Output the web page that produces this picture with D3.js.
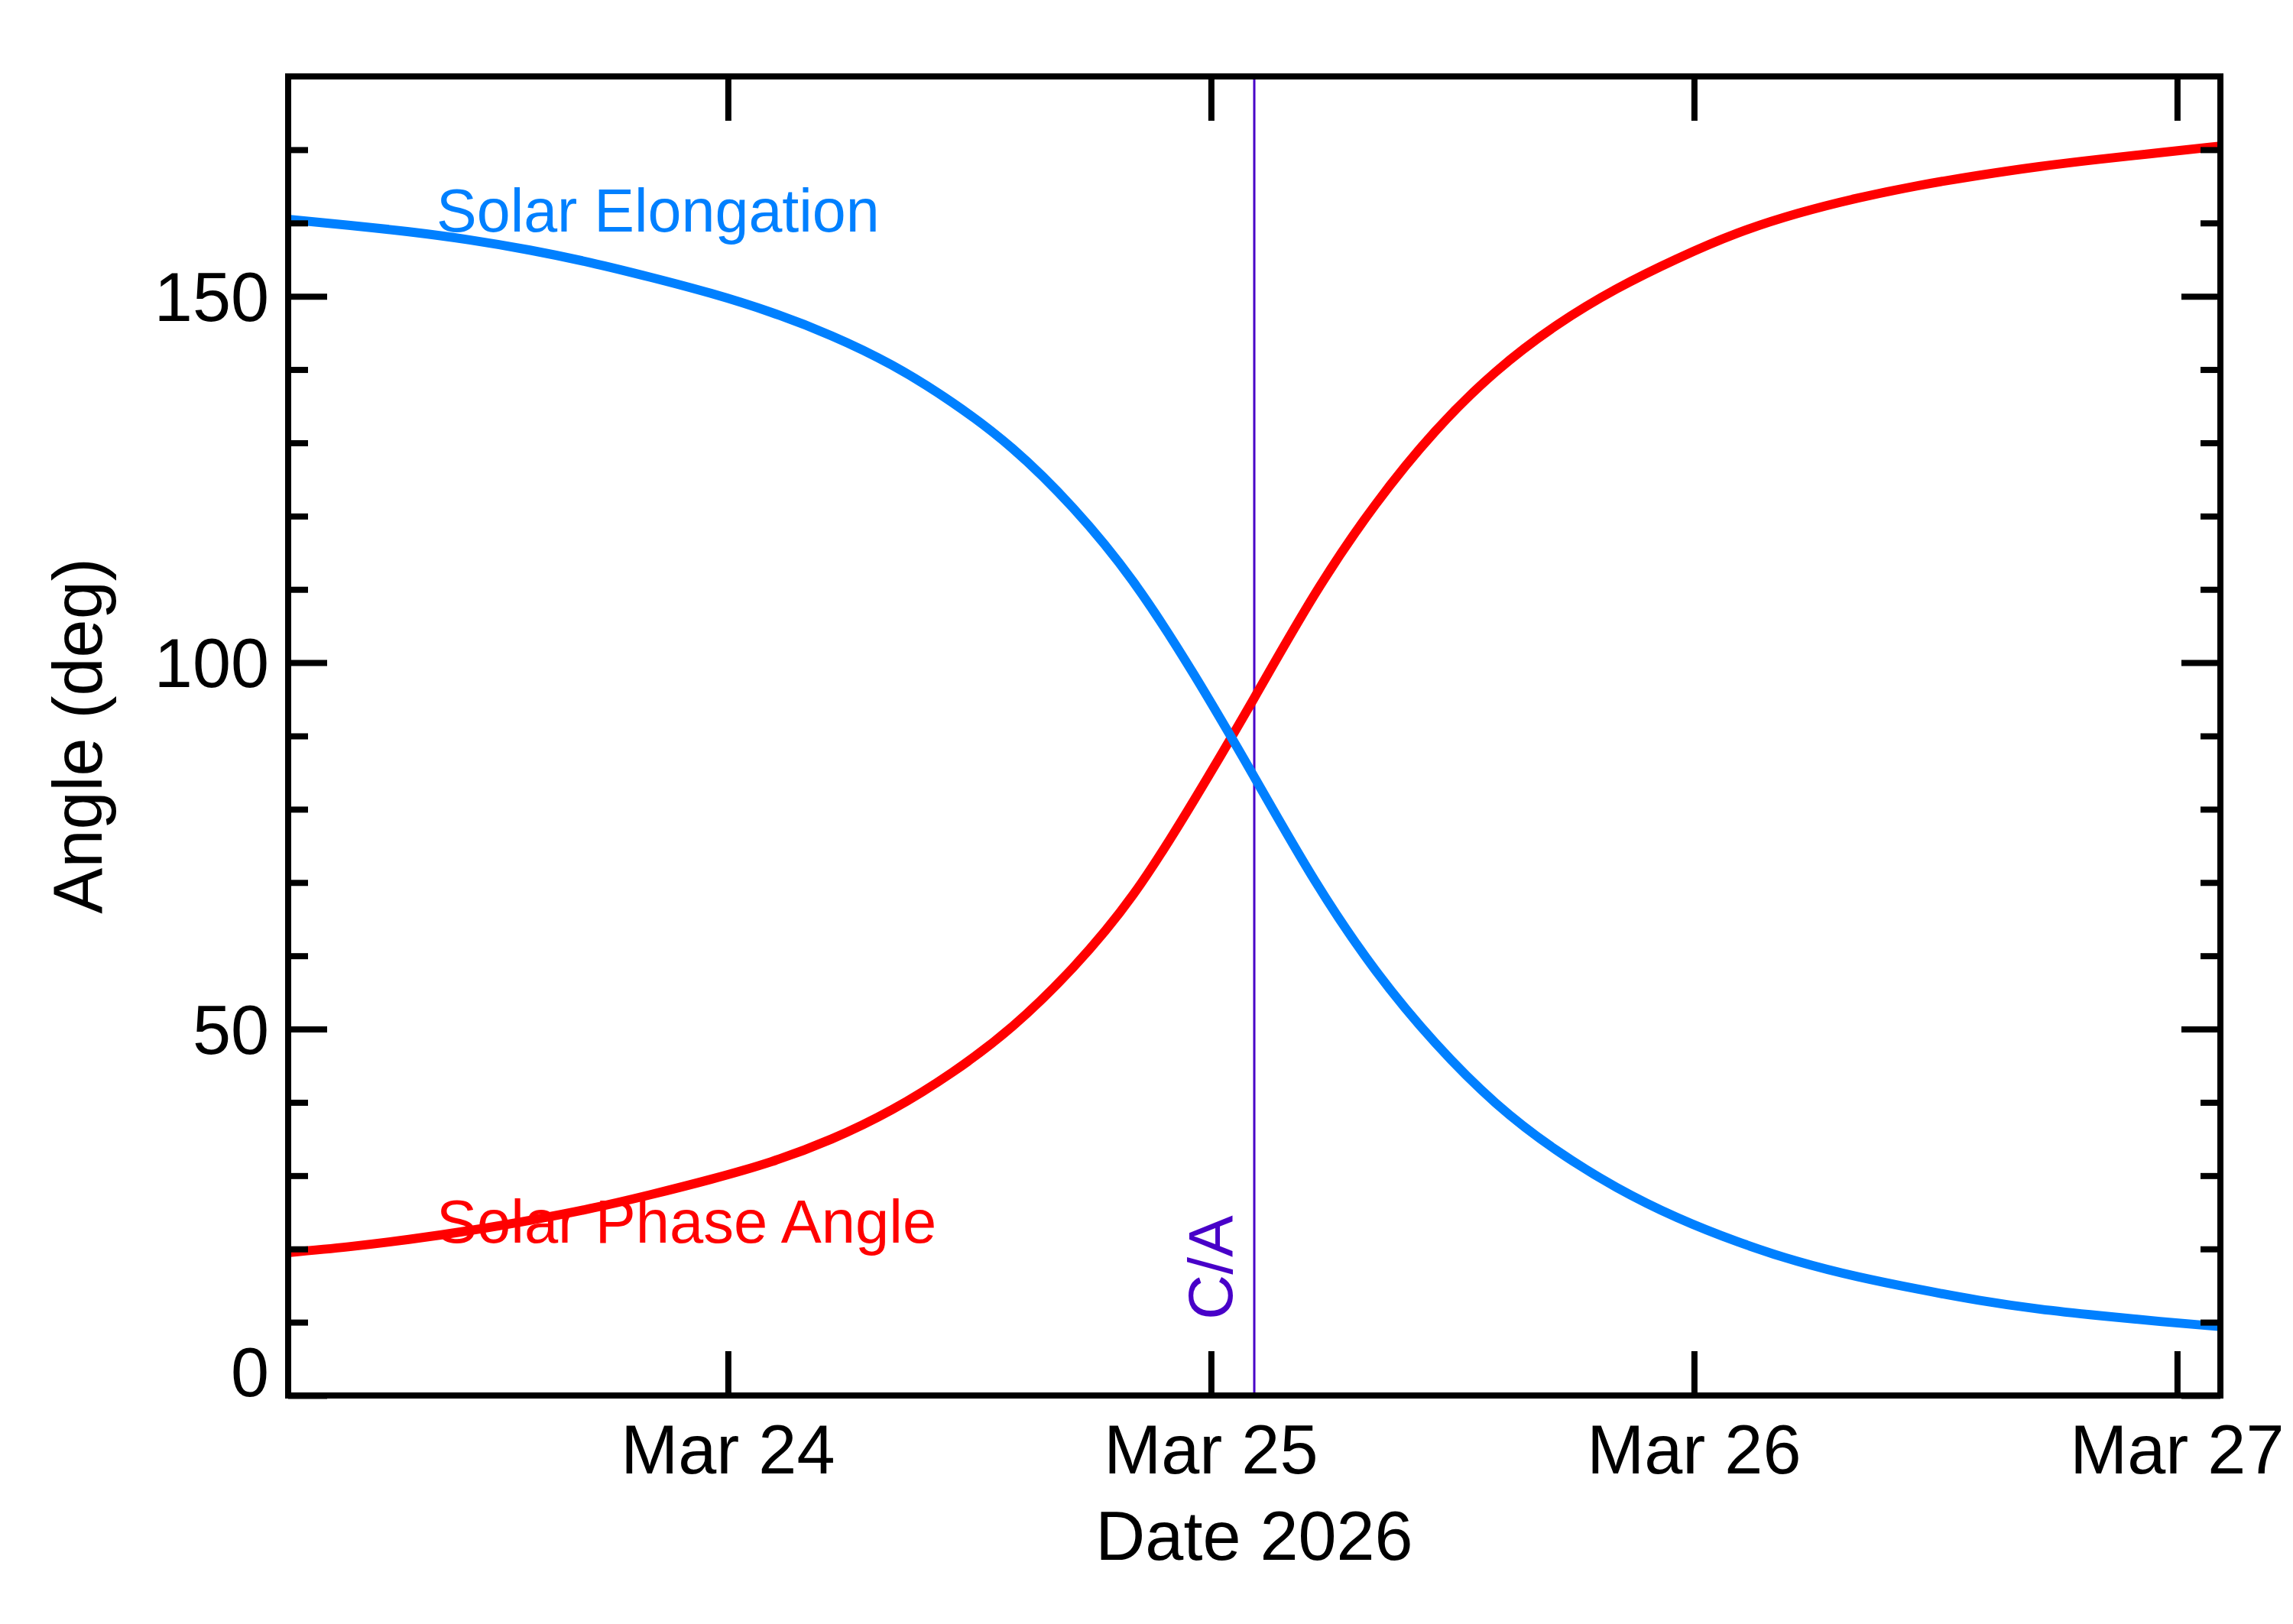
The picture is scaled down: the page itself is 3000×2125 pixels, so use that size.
<!DOCTYPE html>
<html>
<head>
<meta charset="utf-8">
<script src="https://cdn.jsdelivr.net/npm/d3@7/dist/d3.min.js"></script>
<style>
  html, body { margin: 0; padding: 0; background: #ffffff; }
  svg { display: block; }
  text { font-family: "Liberation Sans", Arial, Helvetica, sans-serif; }
</style>
</head>
<body>
<svg id="chart" width="3000" height="2125"></svg>
<script>
// ---------------- data ----------------
const closeApproach = "2026-03-25T02:09";
const windowHours = 48;
const hoursFromCA = [-48,-45,-42,-39,-36,-33,-30,-27,-24,-21,-18,-15,-12,-9,-6,-3,
                     0,3,6,9,12,15,18,21,24,27,30,33,36,39,42,45,48];
const solarElongation = [160.5,159.7,158.8,157.7,156.3,154.6,152.6,150.4,147.8,144.6,140.6,135.5,129.2,121.1,111.0,98.4,
                         84.4,70.3,58.1,48.1,39.9,33.5,28.4,24.3,21.0,18.3,16.2,14.5,13.0,11.8,10.9,10.1,9.4];
const solarPhaseAngle = [19.5,20.3,21.3,22.5,23.9,25.5,27.4,29.5,31.9,35.0,39.0,44.1,50.4,58.4,68.4,81.2,
                         95.2,109.3,121.5,131.6,139.7,146.0,151.0,155.1,158.6,161.3,163.4,165.1,166.5,167.7,168.7,169.6,170.5];
const xTickDates = ["2026-03-24T00:00","2026-03-25T00:00","2026-03-26T00:00","2026-03-27T00:00"];
const xTickLabels = ["Mar 24","Mar 25","Mar 26","Mar 27"];
const yMajorTicks = [0,50,100,150];
const yMinorTicks = [10,20,30,40,60,70,80,90,110,120,130,140,160,170];
const yDomain = [0,180];
const seriesNames = ["Solar Elongation","Solar Phase Angle"];
const xTitle = "Date 2026";
const yTitle = "Angle (deg)";
const caLabel = "C/A";

// ---------------- layout ----------------
const L = 377, R = 2905, T = 100, B = 1826;
const parse = d3.utcParse("%Y-%m-%dT%H:%M");
const ca = parse(closeApproach);
const hour = 3600 * 1000;
const t0 = new Date(ca.getTime() - windowHours * hour);
const t1 = new Date(ca.getTime() + windowHours * hour);

const x = d3.scaleUtc().domain([t0, t1]).range([L, R]);
const y = d3.scaleLinear().domain(yDomain).range([B, T]);

const svg = d3.select("#chart");
svg.append("rect").attr("width", 3000).attr("height", 2125).attr("fill", "#fff");

const times = hoursFromCA.map(h => new Date(ca.getTime() + h * hour));
const elong = times.map((t, i) => ({t, v: solarElongation[i]}));
const phase = times.map((t, i) => ({t, v: solarPhaseAngle[i]}));

const lineGen = d3.line().x(d => x(d.t)).y(d => y(d.v)).curve(d3.curveNatural);

// C/A line
svg.append("line")
  .attr("x1", x(ca)).attr("x2", x(ca))
  .attr("y1", T).attr("y2", B)
  .attr("stroke", "#4800C8").attr("stroke-width", 3);

svg.append("text")
  .attr("transform", `translate(${x(ca) - 29},${B - 99}) rotate(-90)`)
  .attr("font-size", 82).attr("fill", "#4800C8")
  .text(caLabel);

// series labels
svg.append("text").attr("x", 571).attr("y", 303)
  .attr("font-size", 79).attr("fill", "#0080FF").text(seriesNames[0]);
svg.append("text").attr("x", 571).attr("y", 1626)
  .attr("font-size", 79.5).attr("fill", "#FF0000").text(seriesNames[1]);

// curves
svg.append("path").datum(phase).attr("d", lineGen)
  .attr("fill", "none").attr("stroke", "#FF0000").attr("stroke-width", 12);
svg.append("path").datum(elong).attr("d", lineGen)
  .attr("fill", "none").attr("stroke", "#0080FF").attr("stroke-width", 12);

// frame
svg.append("rect").attr("x", L).attr("y", T).attr("width", R - L).attr("height", B - T)
  .attr("fill", "none").attr("stroke", "#000").attr("stroke-width", 8);

const xTicks = xTickDates.map(parse);
function styleAxis(g) {
  g.select(".domain").remove();
  g.selectAll("line").attr("stroke", "#000").attr("stroke-width", 8);
  g.selectAll("text").remove();
}
// x ticks bottom and top
svg.append("g").attr("transform", `translate(0,${B})`)
  .call(d3.axisTop(x).tickValues(xTicks).tickSize(58)).call(styleAxis);
svg.append("g").attr("transform", `translate(0,${T})`)
  .call(d3.axisBottom(x).tickValues(xTicks).tickSize(58)).call(styleAxis);
// y ticks left/right
svg.append("g").attr("transform", `translate(${L},0)`)
  .call(d3.axisRight(y).tickValues(yMajorTicks).tickSize(51)).call(styleAxis);
svg.append("g").attr("transform", `translate(${L},0)`)
  .call(d3.axisRight(y).tickValues(yMinorTicks).tickSize(26)).call(styleAxis);
svg.append("g").attr("transform", `translate(${R},0)`)
  .call(d3.axisLeft(y).tickValues(yMajorTicks).tickSize(51)).call(styleAxis);
svg.append("g").attr("transform", `translate(${R},0)`)
  .call(d3.axisLeft(y).tickValues(yMinorTicks).tickSize(26)).call(styleAxis);

// tick labels
svg.append("g").selectAll("text").data(xTicks).join("text")
  .attr("x", d => x(d)).attr("y", 1928)
  .attr("text-anchor", "middle").attr("font-size", 90).attr("fill", "#000")
  .text((d, i) => xTickLabels[i]);

svg.append("g").selectAll("text").data(yMajorTicks).join("text")
  .attr("x", 352).attr("y", d => Math.min(y(d) + 32, B + 1))
  .attr("text-anchor", "end").attr("font-size", 90).attr("fill", "#000")
  .text(d => d);

// axis titles
svg.append("text").attr("x", (L + R) / 2).attr("y", 2041)
  .attr("text-anchor", "middle").attr("font-size", 90).attr("fill", "#000").text(xTitle);
svg.append("text")
  .attr("transform", `translate(133,${(T + B) / 2}) rotate(-90)`)
  .attr("text-anchor", "middle").attr("font-size", 90).attr("fill", "#000").text(yTitle);
</script>
</body>
</html>
